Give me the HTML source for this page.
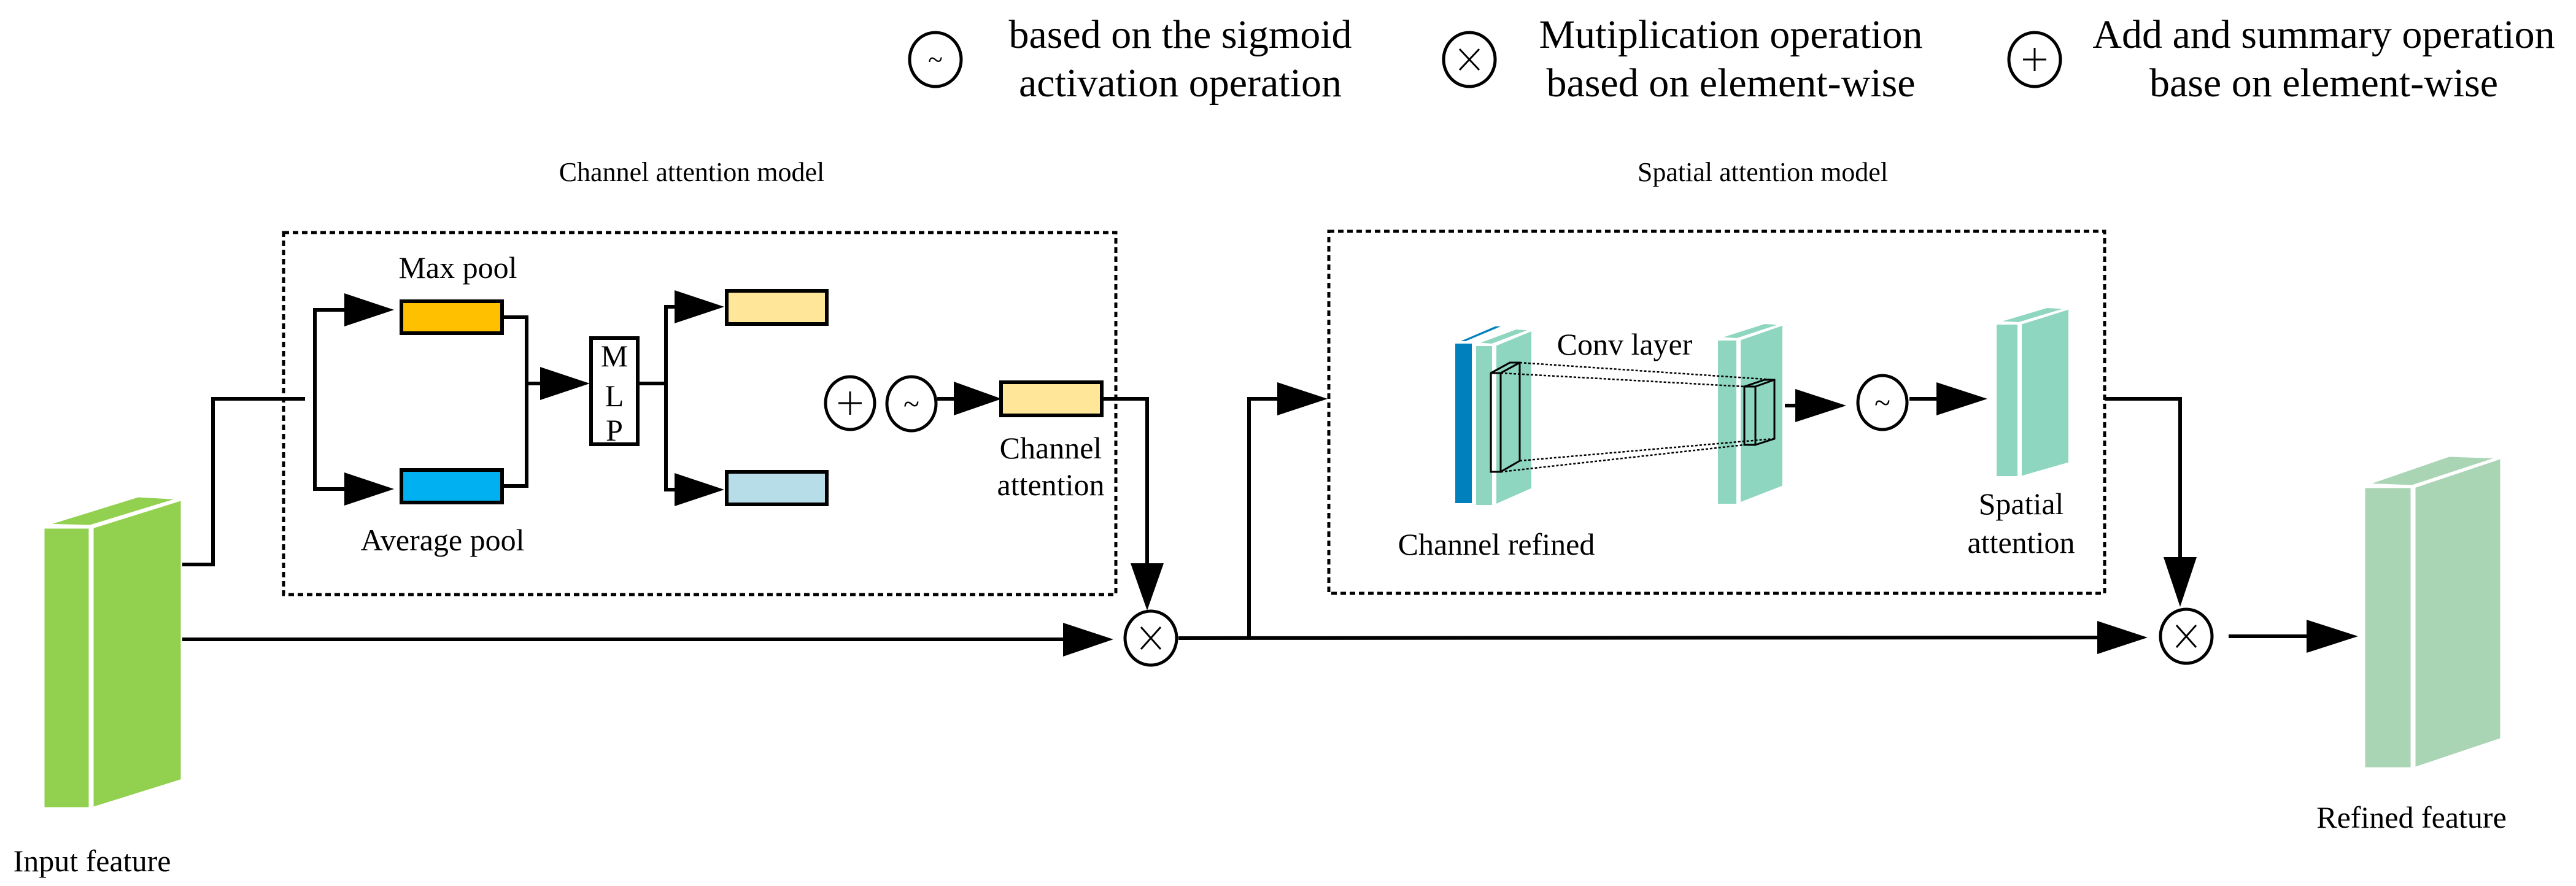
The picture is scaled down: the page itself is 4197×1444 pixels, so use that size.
<!DOCTYPE html>
<html><head><meta charset="utf-8"><style>html,body{margin:0;padding:0;background:#fff}svg{display:block}svg text{font-family:"Liberation Serif","Times New Roman",Times,"Noto Serif CJK SC",serif}</style></head>
<body>
<svg width="4197" height="1444" viewBox="0 0 4197 1444" xmlns="http://www.w3.org/2000/svg">
<!-- Legend -->
<g fill="none" stroke="#000" stroke-width="5">
<ellipse cx="1524" cy="97" rx="42" ry="44"/>
<ellipse cx="2394" cy="97" rx="42" ry="44"/>
<ellipse cx="3315" cy="97" rx="42" ry="44"/>
</g>
<g font-size="44" text-anchor="middle">
<text x="1524" y="112">~</text>
</g>
<g stroke="#000" stroke-width="3">
<line x1="2378" y1="80" x2="2410" y2="114"/><line x1="2410" y1="80" x2="2378" y2="114"/>
<line x1="3315" y1="78" x2="3315" y2="116"/><line x1="3296" y1="97" x2="3334" y2="97"/>
</g>
<g font-size="66" text-anchor="middle">
<text x="1923" y="78">based on the sigmoid</text>
<text x="1923" y="157">activation operation</text>
<text x="2820" y="78">Mutiplication operation</text>
<text x="2820" y="157">based on element-wise</text>
<text x="3786" y="78">Add and summary operation</text>
<text x="3786" y="157">base on element-wise</text>
</g>
<!-- titles -->
<g font-size="44" text-anchor="middle">
<text x="1127" y="295">Channel attention model</text>
<text x="2872" y="295">Spatial attention model</text>
</g>
<!-- dashed boxes -->
<g fill="none" stroke="#000" stroke-width="5" stroke-dasharray="9 6">
<rect x="462" y="379" width="1356" height="590"/>
<rect x="2165" y="377" width="1264" height="590"/>
</g>
<!-- Input feature -->
<g fill="#92D050" stroke="#fff" stroke-width="5">
<polygon points="70,856 147,858 297,812 225,808"/>
<rect x="70" y="859" width="77" height="459"/>
<polygon points="150,859 297,813 297,1272 150,1318"/>
</g>
<!-- Refined feature -->
<g fill="#A9D5B5" stroke="#fff" stroke-width="5">
<polygon points="3851,790 3930,793 4076,745 3990,742"/>
<rect x="3851" y="793" width="79" height="460"/>
<polygon points="3933,793 4076,745 4076,1205 3933,1253"/>
</g>
<!-- connectors -->
<g fill="none" stroke="#000" stroke-width="6">
<line x1="297" y1="1042" x2="1740" y2="1042"/>
<polyline points="297,920 347,920 347,650 497,650"/>
<polyline points="575,505 513,505 513,797 575,797"/>
<polyline points="818,517 858,517 858,792 818,792"/>
<line x1="858" y1="625" x2="890" y2="625"/>
<line x1="1039" y1="625" x2="1085" y2="625"/>
<polyline points="1110,500 1085,500 1085,798 1110,798"/>
<line x1="1527" y1="650" x2="1570" y2="650"/>
<polyline points="1795,650 1869,650 1869,930"/>
<line x1="1920" y1="1040" x2="3430" y2="1039"/>
<polyline points="2035,1040 2035,650 2090,650"/>
<polyline points="3429,650 3552,650 3552,915"/>
<line x1="3631" y1="1037" x2="3770" y2="1037"/>
<line x1="2903" y1="661" x2="2940" y2="661"/>
<line x1="3111" y1="650" x2="3160" y2="650"/>
</g>
<!-- arrowheads -->
<g fill="#000">
<polygon points="1732,1015 1814,1042 1732,1070"/>
<polygon points="561,478 642,505 561,532"/>
<polygon points="561,770 642,797 561,824"/>
<polygon points="880,598 961,625 880,652"/>
<polygon points="1099,473 1180,500 1099,527"/>
<polygon points="1099,771 1180,798 1099,825"/>
<polygon points="1554,622 1632,650 1554,677"/>
<polygon points="1842,918 1869,995 1896,918"/>
<polygon points="2081,623 2163,650 2081,677"/>
<polygon points="3417,1012 3499,1039 3417,1066"/>
<polygon points="3525,908 3552,989 3579,908"/>
<polygon points="3758,1010 3842,1037 3758,1064"/>
<polygon points="2925,634 3008,661 2925,688"/>
<polygon points="3155,623 3238,650 3155,677"/>
</g>
<!-- rects -->
<g stroke="#000" stroke-width="6">
<rect x="654" y="491" width="164" height="52" fill="#FFC000"/>
<rect x="654" y="766" width="164" height="53" fill="#00B0F0"/>
<rect x="1184" y="474" width="163" height="54" fill="#FFE699"/>
<rect x="1184" y="769" width="163" height="53" fill="#B7DDE8"/>
<rect x="1631" y="623" width="164" height="54" fill="#FFE699"/>
<rect x="963" y="551" width="76" height="173" fill="#fff"/>
</g>
<g fill="#fff" stroke="#000" stroke-width="5">
<ellipse cx="1385" cy="657" rx="40" ry="43"/>
<ellipse cx="1485" cy="658" rx="40" ry="44"/>
<ellipse cx="1875" cy="1040" rx="42" ry="44"/>
<ellipse cx="3562" cy="1037" rx="42" ry="44"/>
<ellipse cx="3067" cy="656" rx="40" ry="44"/>
</g>
<g stroke="#000" stroke-width="3">
<line x1="1385" y1="638" x2="1385" y2="676"/><line x1="1366" y1="657" x2="1404" y2="657"/>
<line x1="1859" y1="1022" x2="1891" y2="1058"/><line x1="1891" y1="1022" x2="1859" y2="1058"/>
<line x1="3546" y1="1019" x2="3578" y2="1055"/><line x1="3578" y1="1019" x2="3546" y2="1055"/>
</g>
<g font-size="48" text-anchor="middle">
<text x="1485" y="674">~</text>
<text x="3067" y="672">~</text>
</g>
<g font-size="50" text-anchor="middle">
<text x="1001" y="597">M</text>
<text x="1001" y="662">L</text>
<text x="1001" y="718">P</text>
<text x="746" y="453">Max pool</text>
<text x="721" y="897">Average pool</text>
<text x="1712" y="747">Channel</text>
<text x="1712" y="807">attention</text>
<text x="150" y="1420">Input feature</text>
<text x="3929" y="1349">Refined feature</text>
<text x="2647" y="578">Conv layer</text>
<text x="2438" y="904">Channel refined</text>
<text x="3293" y="838">Spatial</text>
<text x="3293" y="901">attention</text>
</g>
<!-- spatial layers -->
<rect x="2371" y="560" width="27" height="260" fill="#0080BC"/>
<polygon points="2380,556 2388,556 2445,532 2436,532" fill="#0080BC"/>
<g fill="#8ED6BF" stroke="#fff" stroke-width="4">
<polygon points="2403,560 2431,562 2497,537 2470,535"/>
<rect x="2403" y="562" width="30" height="263"/>
<polygon points="2436,562 2497,537 2497,797 2436,824"/>
<polygon points="2797,551 2830,553 2906,528 2875,526"/>
<rect x="2797" y="553" width="34" height="270"/>
<polygon points="2834,553 2906,528 2906,793 2834,821"/>
<polygon points="3251,525 3289,527 3372,502 3335,500"/>
<rect x="3251" y="527" width="38" height="251"/>
<polygon points="3292,527 3372,502 3372,755 3292,778"/>
</g>
<g fill="none" stroke="#000" stroke-width="3">
<rect x="2429" y="608" width="16" height="161"/>
<polyline points="2429,608 2460,591 2476,591 2476,751 2445,769"/>
<line x1="2445" y1="608" x2="2476" y2="591"/>
<rect x="2842" y="630" width="18" height="95"/>
<polyline points="2842,630 2875,619 2891,619 2891,715 2860,725"/>
<line x1="2860" y1="630" x2="2891" y2="619"/>
</g>
<g stroke="#000" stroke-width="2.5" stroke-dasharray="4 3">
<line x1="2476" y1="591" x2="2891" y2="619"/>
<line x1="2445" y1="608" x2="2842" y2="630"/>
<line x1="2476" y1="751" x2="2891" y2="715"/>
<line x1="2445" y1="769" x2="2842" y2="725"/>
</g>
</svg>
</body></html>
